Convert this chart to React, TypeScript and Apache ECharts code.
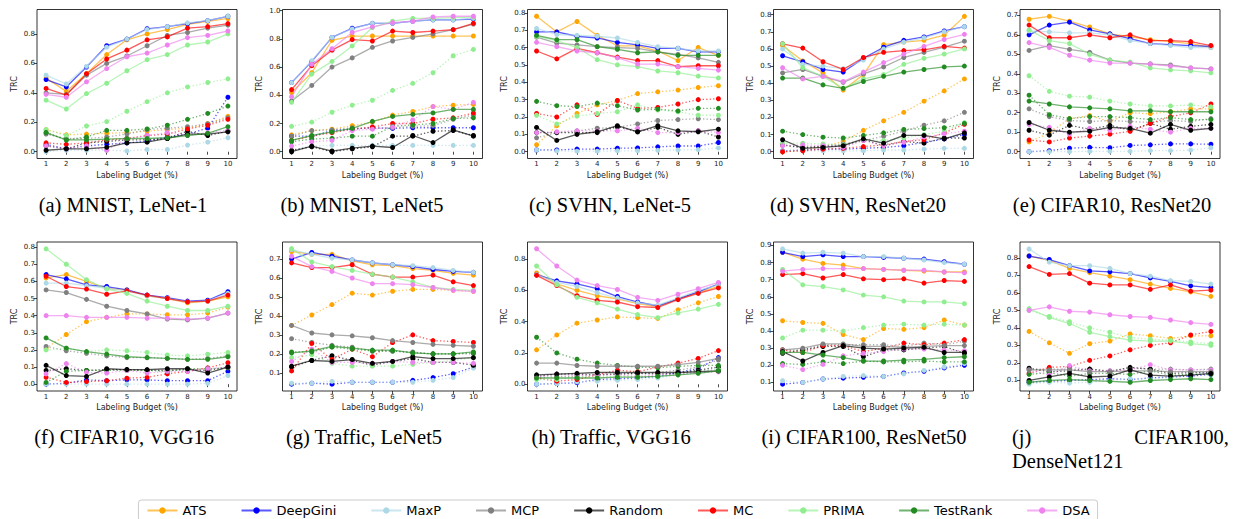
import React, { useEffect, useRef } from "react";
import * as echarts from "echarts";

const METHODS = ["ATS", "DeepGini", "MaxP", "MCP", "Random", "MC", "PRIMA", "TestRank", "DSA"];
const COLORS = ["#FFA500", "#0000FF", "#ADD8E6", "#808080", "#000000", "#FF0000", "#90EE90", "#228B22", "#EE82EE"];
const BUDGET = [1, 2, 3, 4, 5, 6, 7, 8, 9, 10];

// order of rows in every block: ATS, DeepGini, MaxP, MCP, Random, MC, PRIMA, TestRank, DSA
const A_SOLID = [
  [0.50, 0.41, 0.53, 0.66, 0.76, 0.80, 0.83, 0.865, 0.885, 0.905],
  [0.49, 0.44, 0.575, 0.72, 0.765, 0.835, 0.85, 0.87, 0.89, 0.92],
  [0.52, 0.46, 0.58, 0.71, 0.765, 0.83, 0.85, 0.875, 0.89, 0.92],
  [0.40, 0.39, 0.52, 0.60, 0.65, 0.72, 0.79, 0.81, 0.84, 0.86],
  [0.01, 0.02, 0.02, 0.03, 0.06, 0.065, 0.09, 0.12, 0.12, 0.135],
  [0.43, 0.385, 0.53, 0.63, 0.69, 0.76, 0.78, 0.84, 0.85, 0.87],
  [0.35, 0.29, 0.395, 0.465, 0.55, 0.625, 0.66, 0.725, 0.745, 0.80],
  [0.13, 0.08, 0.08, 0.085, 0.09, 0.09, 0.095, 0.11, 0.125, 0.17],
  [0.39, 0.37, 0.475, 0.565, 0.645, 0.67, 0.725, 0.775, 0.79, 0.82],
];
const A_DOTTED = [
  [0.15, 0.115, 0.12, 0.125, 0.13, 0.14, 0.15, 0.16, 0.19, 0.24],
  [0.05, 0.02, 0.04, 0.05, 0.06, 0.07, 0.10, 0.12, 0.16, 0.37],
  [0.0, 0.01, 0.01, 0.01, 0.005, 0.015, 0.015, 0.045, 0.065, 0.095],
  [0.12, 0.09, 0.09, 0.10, 0.12, 0.15, 0.16, 0.17, 0.19, 0.23],
  [0.04, 0.02, 0.06, 0.07, 0.08, 0.08, 0.09, 0.14, 0.11, 0.14],
  [0.06, 0.05, 0.06, 0.08, 0.09, 0.11, 0.12, 0.155, 0.18, 0.22],
  [0.15, 0.11, 0.175, 0.205, 0.275, 0.34, 0.40, 0.44, 0.47, 0.495],
  [0.13, 0.08, 0.10, 0.145, 0.145, 0.155, 0.18, 0.22, 0.26, 0.31],
  [0.04, 0.02, 0.04, 0.01, 0.09, 0.11, 0.13, 0.11, 0.13, 0.145],
];

const B_SOLID = [
  [0.42, 0.56, 0.79, 0.82, 0.82, 0.82, 0.82, 0.82, 0.82, 0.82],
  [0.49, 0.64, 0.81, 0.875, 0.91, 0.91, 0.925, 0.935, 0.935, 0.94],
  [0.49, 0.645, 0.81, 0.87, 0.91, 0.91, 0.925, 0.935, 0.935, 0.945],
  [0.36, 0.47, 0.60, 0.665, 0.74, 0.785, 0.81, 0.835, 0.865, 0.905],
  [0.0, 0.04, 0.005, 0.025, 0.04, 0.03, 0.115, 0.065, 0.155, 0.11],
  [0.44, 0.61, 0.72, 0.795, 0.785, 0.855, 0.845, 0.855, 0.865, 0.91],
  [0.35, 0.55, 0.64, 0.75, 0.88, 0.925, 0.945, 0.945, 0.95, 0.955],
  [0.08, 0.115, 0.14, 0.165, 0.215, 0.25, 0.265, 0.275, 0.30, 0.30],
  [0.39, 0.62, 0.73, 0.845, 0.885, 0.915, 0.925, 0.955, 0.96, 0.96],
];
const B_DOTTED = [
  [0.12, 0.15, 0.16, 0.185, 0.21, 0.26, 0.285, 0.32, 0.33, 0.335],
  [0.11, 0.11, 0.15, 0.16, 0.17, 0.165, 0.17, 0.17, 0.17, 0.17],
  [0.01, 0.04, 0.045, 0.045, 0.045, 0.045, 0.045, 0.045, 0.045, 0.045],
  [0.11, 0.15, 0.155, 0.17, 0.165, 0.17, 0.18, 0.185, 0.23, 0.26],
  [0.01, 0.035, 0.0, 0.02, 0.035, 0.11, 0.11, 0.145, 0.15, 0.115],
  [0.08, 0.11, 0.135, 0.16, 0.175, 0.20, 0.20, 0.23, 0.24, 0.275],
  [0.18, 0.21, 0.28, 0.33, 0.365, 0.435, 0.485, 0.56, 0.68, 0.725],
  [0.07, 0.09, 0.095, 0.11, 0.11, 0.18, 0.19, 0.20, 0.235, 0.24],
  [0.04, 0.07, 0.08, 0.15, 0.16, 0.175, 0.225, 0.32, 0.30, 0.35],
];

const C_SOLID = [
  [0.78, 0.69, 0.75, 0.67, 0.61, 0.61, 0.58, 0.525, 0.60, 0.555],
  [0.69, 0.69, 0.665, 0.655, 0.63, 0.615, 0.595, 0.595, 0.575, 0.575],
  [0.71, 0.675, 0.67, 0.665, 0.655, 0.63, 0.605, 0.595, 0.58, 0.58],
  [0.66, 0.625, 0.615, 0.605, 0.60, 0.595, 0.575, 0.56, 0.54, 0.515],
  [0.14, 0.065, 0.10, 0.115, 0.15, 0.115, 0.15, 0.12, 0.115, 0.13],
  [0.58, 0.535, 0.595, 0.57, 0.545, 0.525, 0.525, 0.49, 0.495, 0.495],
  [0.665, 0.64, 0.60, 0.53, 0.50, 0.49, 0.465, 0.455, 0.435, 0.425],
  [0.67, 0.645, 0.645, 0.605, 0.59, 0.57, 0.575, 0.555, 0.555, 0.555],
  [0.63, 0.605, 0.58, 0.57, 0.54, 0.505, 0.505, 0.49, 0.48, 0.47],
];
const C_DOTTED = [
  [0.04, 0.15, 0.22, 0.27, 0.295, 0.335, 0.345, 0.355, 0.37, 0.38],
  [0.01, 0.01, 0.015, 0.015, 0.02, 0.022, 0.028, 0.033, 0.033, 0.053],
  [0.01, 0.005, 0.003, 0.003, 0.005, 0.005, 0.008, 0.01, 0.012, 0.022],
  [0.08, 0.11, 0.12, 0.135, 0.14, 0.16, 0.18, 0.185, 0.19, 0.185],
  [0.11, 0.11, 0.11, 0.11, 0.145, 0.115, 0.14, 0.10, 0.12, 0.085],
  [0.22, 0.20, 0.27, 0.215, 0.295, 0.25, 0.255, 0.275, 0.30, 0.305],
  [0.21, 0.16, 0.205, 0.22, 0.23, 0.27, 0.24, 0.23, 0.21, 0.21],
  [0.29, 0.265, 0.26, 0.28, 0.265, 0.24, 0.245, 0.235, 0.25, 0.25],
  [0.11, 0.115, 0.12, 0.12, 0.12, 0.135, 0.11, 0.11, 0.12, 0.11],
];

const D_SOLID = [
  [0.62, 0.53, 0.46, 0.36, 0.45, 0.625, 0.64, 0.65, 0.68, 0.79],
  [0.56, 0.525, 0.48, 0.465, 0.545, 0.61, 0.65, 0.67, 0.705, 0.73],
  [0.60, 0.51, 0.50, 0.485, 0.535, 0.60, 0.64, 0.665, 0.70, 0.73],
  [0.46, 0.48, 0.44, 0.405, 0.455, 0.495, 0.55, 0.58, 0.61, 0.645],
  [0.07, 0.02, 0.025, 0.035, 0.075, 0.05, 0.095, 0.095, 0.075, 0.11],
  [0.63, 0.605, 0.525, 0.48, 0.55, 0.58, 0.59, 0.595, 0.615, 0.605],
  [0.63, 0.49, 0.44, 0.37, 0.425, 0.45, 0.51, 0.545, 0.57, 0.60],
  [0.43, 0.43, 0.39, 0.37, 0.41, 0.44, 0.465, 0.48, 0.495, 0.50],
  [0.49, 0.425, 0.44, 0.41, 0.465, 0.52, 0.57, 0.615, 0.655, 0.685],
];
const D_DOTTED = [
  [0.0, 0.01, 0.03, 0.06, 0.125, 0.18, 0.23, 0.295, 0.355, 0.425],
  [0.005, 0.01, 0.015, 0.015, 0.02, 0.025, 0.035, 0.055, 0.075, 0.10],
  [0.005, 0.005, 0.005, 0.005, 0.005, 0.01, 0.01, 0.015, 0.02, 0.02],
  [0.04, 0.02, 0.035, 0.045, 0.065, 0.09, 0.12, 0.155, 0.18, 0.23],
  [0.04, 0.025, 0.03, 0.035, 0.07, 0.035, 0.06, 0.05, 0.08, 0.08],
  [0.0, 0.005, 0.015, 0.02, 0.03, 0.04, 0.06, 0.07, 0.11, 0.16],
  [0.05, 0.05, 0.045, 0.04, 0.07, 0.065, 0.08, 0.10, 0.12, 0.17],
  [0.12, 0.10, 0.085, 0.08, 0.095, 0.11, 0.13, 0.135, 0.14, 0.165],
  [0.035, 0.04, 0.035, 0.025, 0.065, 0.035, 0.055, 0.085, 0.105, 0.12],
];

const E_SOLID = [
  [0.68, 0.695, 0.67, 0.64, 0.605, 0.59, 0.575, 0.565, 0.555, 0.535],
  [0.60, 0.65, 0.665, 0.625, 0.605, 0.58, 0.555, 0.55, 0.545, 0.54],
  [0.62, 0.615, 0.61, 0.61, 0.60, 0.57, 0.555, 0.545, 0.535, 0.535],
  [0.52, 0.545, 0.525, 0.51, 0.47, 0.455, 0.45, 0.445, 0.43, 0.425],
  [0.15, 0.11, 0.10, 0.105, 0.125, 0.12, 0.095, 0.14, 0.11, 0.12],
  [0.65, 0.585, 0.585, 0.60, 0.585, 0.60, 0.57, 0.57, 0.565, 0.545],
  [0.625, 0.57, 0.555, 0.50, 0.47, 0.46, 0.43, 0.42, 0.415, 0.405],
  [0.26, 0.245, 0.23, 0.225, 0.22, 0.21, 0.21, 0.205, 0.205, 0.205],
  [0.56, 0.535, 0.495, 0.47, 0.455, 0.455, 0.45, 0.44, 0.43, 0.425],
];
const E_DOTTED = [
  [0.05, 0.095, 0.17, 0.185, 0.155, 0.20, 0.195, 0.205, 0.22, 0.22],
  [0.0, 0.005, 0.018, 0.022, 0.02, 0.032, 0.035, 0.04, 0.04, 0.038],
  [0.0, 0.0, 0.0, 0.002, 0.002, 0.002, 0.005, 0.005, 0.008, 0.02],
  [0.22, 0.18, 0.16, 0.155, 0.16, 0.155, 0.15, 0.16, 0.155, 0.17],
  [0.11, 0.085, 0.135, 0.115, 0.135, 0.11, 0.145, 0.115, 0.13, 0.14],
  [0.06, 0.05, 0.07, 0.08, 0.09, 0.105, 0.145, 0.18, 0.20, 0.245],
  [0.39, 0.31, 0.285, 0.28, 0.26, 0.245, 0.235, 0.235, 0.24, 0.23],
  [0.29, 0.19, 0.17, 0.18, 0.18, 0.175, 0.165, 0.175, 0.165, 0.165],
  [0.14, 0.125, 0.09, 0.12, 0.11, 0.13, 0.115, 0.10, 0.12, 0.12],
];

const F_SOLID = [
  [0.62, 0.64, 0.60, 0.56, 0.55, 0.515, 0.50, 0.475, 0.485, 0.51],
  [0.64, 0.615, 0.58, 0.57, 0.55, 0.52, 0.505, 0.485, 0.49, 0.54],
  [0.59, 0.59, 0.575, 0.56, 0.545, 0.515, 0.50, 0.48, 0.485, 0.53],
  [0.55, 0.535, 0.495, 0.455, 0.43, 0.41, 0.38, 0.375, 0.385, 0.415],
  [0.11, 0.05, 0.045, 0.09, 0.085, 0.085, 0.09, 0.09, 0.065, 0.10],
  [0.63, 0.57, 0.555, 0.525, 0.545, 0.52, 0.50, 0.48, 0.485, 0.52],
  [0.79, 0.70, 0.61, 0.555, 0.53, 0.485, 0.455, 0.43, 0.43, 0.455],
  [0.27, 0.21, 0.19, 0.175, 0.16, 0.155, 0.15, 0.145, 0.145, 0.16],
  [0.40, 0.40, 0.39, 0.39, 0.39, 0.385, 0.385, 0.38, 0.385, 0.415],
];
const F_DOTTED = [
  [0.21, 0.29, 0.365, 0.39, 0.41, 0.41, 0.405, 0.405, 0.415, 0.45],
  [0.0, 0.005, 0.025, 0.02, 0.025, 0.025, 0.02, 0.02, 0.02, 0.075],
  [0.0, 0.0, 0.0, 0.0, 0.0, 0.0, 0.0, 0.0, 0.005, 0.05],
  [0.22, 0.195, 0.18, 0.165, 0.155, 0.155, 0.15, 0.145, 0.15, 0.165],
  [0.08, 0.09, 0.08, 0.085, 0.085, 0.08, 0.08, 0.085, 0.08, 0.10],
  [0.04, 0.01, 0.015, 0.02, 0.035, 0.04, 0.06, 0.075, 0.095, 0.125],
  [0.20, 0.21, 0.19, 0.20, 0.195, 0.185, 0.17, 0.165, 0.175, 0.185],
  [0.01, 0.075, 0.08, 0.08, 0.08, 0.08, 0.075, 0.09, 0.09, 0.095],
  [0.06, 0.12, 0.07, 0.065, 0.08, 0.065, 0.075, 0.075, 0.09, 0.10],
];

const G_SOLID = [
  [0.74, 0.725, 0.725, 0.69, 0.67, 0.665, 0.65, 0.64, 0.625, 0.615],
  [0.70, 0.735, 0.715, 0.695, 0.68, 0.67, 0.66, 0.645, 0.635, 0.63],
  [0.75, 0.725, 0.705, 0.695, 0.68, 0.67, 0.665, 0.655, 0.64, 0.63],
  [0.35, 0.31, 0.30, 0.295, 0.285, 0.27, 0.26, 0.25, 0.245, 0.24],
  [0.135, 0.165, 0.16, 0.17, 0.15, 0.16, 0.185, 0.175, 0.175, 0.18],
  [0.68, 0.655, 0.655, 0.67, 0.62, 0.605, 0.605, 0.615, 0.58, 0.56],
  [0.755, 0.685, 0.66, 0.64, 0.62, 0.605, 0.58, 0.55, 0.54, 0.535],
  [0.205, 0.215, 0.24, 0.23, 0.22, 0.22, 0.205, 0.20, 0.20, 0.21],
  [0.715, 0.66, 0.635, 0.60, 0.57, 0.57, 0.565, 0.55, 0.535, 0.53],
];
const G_DOTTED = [
  [0.35, 0.405, 0.46, 0.52, 0.51, 0.53, 0.54, 0.54, 0.535, 0.53],
  [0.04, 0.045, 0.04, 0.05, 0.05, 0.05, 0.06, 0.075, 0.095, 0.13],
  [0.045, 0.045, 0.055, 0.05, 0.05, 0.05, 0.05, 0.06, 0.075, 0.125],
  [0.28, 0.26, 0.245, 0.235, 0.215, 0.215, 0.21, 0.20, 0.20, 0.20],
  [0.13, 0.165, 0.19, 0.165, 0.14, 0.16, 0.175, 0.155, 0.155, 0.14],
  [0.11, 0.255, 0.17, 0.225, 0.185, 0.26, 0.30, 0.27, 0.265, 0.26],
  [0.18, 0.195, 0.15, 0.135, 0.135, 0.135, 0.145, 0.155, 0.165, 0.18],
  [0.21, 0.21, 0.235, 0.225, 0.215, 0.215, 0.205, 0.20, 0.20, 0.205],
  [0.16, 0.225, 0.155, 0.155, 0.15, 0.16, 0.155, 0.155, 0.155, 0.15],
];

const H_SOLID = [
  [0.71, 0.64, 0.60, 0.565, 0.545, 0.515, 0.495, 0.545, 0.585, 0.625],
  [0.70, 0.66, 0.64, 0.61, 0.56, 0.525, 0.50, 0.545, 0.59, 0.64],
  [0.70, 0.65, 0.625, 0.585, 0.55, 0.52, 0.505, 0.55, 0.60, 0.635],
  [0.135, 0.135, 0.12, 0.115, 0.115, 0.115, 0.115, 0.125, 0.14, 0.165],
  [0.06, 0.065, 0.07, 0.075, 0.075, 0.075, 0.075, 0.075, 0.08, 0.085],
  [0.695, 0.63, 0.565, 0.535, 0.525, 0.495, 0.49, 0.54, 0.58, 0.615],
  [0.755, 0.635, 0.555, 0.52, 0.48, 0.445, 0.425, 0.455, 0.48, 0.51],
  [0.04, 0.04, 0.04, 0.04, 0.045, 0.045, 0.05, 0.06, 0.07, 0.085],
  [0.865, 0.755, 0.665, 0.63, 0.605, 0.555, 0.535, 0.575, 0.61, 0.65],
];
const H_DOTTED = [
  [0.22, 0.315, 0.39, 0.41, 0.43, 0.425, 0.42, 0.475, 0.52, 0.56],
  [0.0, 0.005, 0.01, 0.03, 0.035, 0.04, 0.05, 0.075, 0.10, 0.17],
  [0.0, 0.005, 0.015, 0.02, 0.025, 0.03, 0.04, 0.06, 0.08, 0.10],
  [0.04, 0.05, 0.05, 0.06, 0.065, 0.07, 0.075, 0.09, 0.11, 0.155],
  [0.05, 0.065, 0.065, 0.06, 0.065, 0.07, 0.065, 0.07, 0.09, 0.11],
  [0.04, 0.02, 0.03, 0.06, 0.09, 0.08, 0.11, 0.135, 0.165, 0.215],
  [0.03, 0.03, 0.05, 0.05, 0.05, 0.05, 0.05, 0.065, 0.08, 0.095],
  [0.30, 0.20, 0.16, 0.135, 0.12, 0.11, 0.105, 0.115, 0.12, 0.12],
  [0.045, 0.065, 0.055, 0.06, 0.06, 0.05, 0.06, 0.065, 0.075, 0.08],
];

const I_SOLID = [
  [0.86, 0.82, 0.795, 0.785, 0.765, 0.76, 0.755, 0.75, 0.745, 0.745],
  [0.86, 0.835, 0.845, 0.835, 0.835, 0.83, 0.825, 0.82, 0.805, 0.79],
  [0.88, 0.855, 0.86, 0.855, 0.835, 0.835, 0.825, 0.815, 0.80, 0.79],
  [0.29, 0.30, 0.325, 0.325, 0.31, 0.31, 0.305, 0.31, 0.315, 0.315],
  [0.28, 0.225, 0.275, 0.315, 0.30, 0.295, 0.30, 0.305, 0.275, 0.275],
  [0.73, 0.735, 0.71, 0.73, 0.705, 0.70, 0.705, 0.68, 0.695, 0.69],
  [0.76, 0.67, 0.66, 0.64, 0.61, 0.60, 0.575, 0.57, 0.57, 0.56],
  [0.275, 0.275, 0.26, 0.245, 0.225, 0.225, 0.23, 0.235, 0.245, 0.25],
  [0.75, 0.76, 0.765, 0.765, 0.765, 0.76, 0.755, 0.755, 0.745, 0.74],
];
const I_DOTTED = [
  [0.46, 0.45, 0.445, 0.38, 0.35, 0.415, 0.41, 0.42, 0.465, 0.435],
  [0.09, 0.10, 0.12, 0.125, 0.13, 0.135, 0.155, 0.165, 0.185, 0.20],
  [0.11, 0.10, 0.12, 0.135, 0.14, 0.135, 0.15, 0.17, 0.19, 0.21],
  [0.29, 0.29, 0.32, 0.32, 0.32, 0.32, 0.31, 0.33, 0.32, 0.34],
  [0.27, 0.29, 0.31, 0.31, 0.25, 0.29, 0.29, 0.30, 0.31, 0.27],
  [0.29, 0.275, 0.315, 0.315, 0.28, 0.30, 0.33, 0.32, 0.33, 0.35],
  [0.36, 0.405, 0.405, 0.40, 0.42, 0.435, 0.44, 0.435, 0.44, 0.435],
  [0.21, 0.205, 0.22, 0.21, 0.225, 0.22, 0.22, 0.225, 0.22, 0.22],
  [0.20, 0.175, 0.205, 0.255, 0.27, 0.28, 0.295, 0.295, 0.29, 0.285],
];

const J_SOLID = [
  [0.81, 0.785, 0.74, 0.715, 0.695, 0.675, 0.65, 0.625, 0.605, 0.58],
  [0.81, 0.79, 0.755, 0.725, 0.72, 0.71, 0.685, 0.665, 0.64, 0.63],
  [0.85, 0.775, 0.755, 0.755, 0.74, 0.71, 0.695, 0.67, 0.665, 0.65],
  [0.16, 0.16, 0.16, 0.15, 0.15, 0.155, 0.155, 0.15, 0.15, 0.15],
  [0.10, 0.12, 0.14, 0.12, 0.125, 0.16, 0.13, 0.125, 0.13, 0.14],
  [0.75, 0.705, 0.71, 0.655, 0.645, 0.645, 0.62, 0.645, 0.61, 0.615],
  [0.51, 0.46, 0.425, 0.375, 0.35, 0.33, 0.325, 0.325, 0.31, 0.30],
  [0.09, 0.10, 0.105, 0.10, 0.095, 0.09, 0.10, 0.105, 0.11, 0.105],
  [0.50, 0.52, 0.495, 0.49, 0.475, 0.465, 0.46, 0.445, 0.43, 0.42],
];
const J_DOTTED = [
  [0.38, 0.315, 0.255, 0.31, 0.325, 0.365, 0.355, 0.34, 0.355, 0.355],
  [0.09, 0.095, 0.10, 0.105, 0.11, 0.105, 0.115, 0.12, 0.125, 0.135],
  [0.08, 0.09, 0.085, 0.09, 0.10, 0.11, 0.11, 0.115, 0.14, 0.15],
  [0.165, 0.165, 0.165, 0.165, 0.155, 0.17, 0.165, 0.165, 0.16, 0.165],
  [0.17, 0.15, 0.155, 0.165, 0.15, 0.175, 0.165, 0.14, 0.145, 0.145],
  [0.14, 0.175, 0.18, 0.215, 0.24, 0.275, 0.30, 0.315, 0.36, 0.38],
  [0.50, 0.465, 0.435, 0.40, 0.375, 0.345, 0.335, 0.33, 0.32, 0.31],
  [0.135, 0.145, 0.125, 0.14, 0.14, 0.135, 0.155, 0.13, 0.135, 0.135],
  [0.16, 0.13, 0.185, 0.155, 0.155, 0.16, 0.19, 0.16, 0.16, 0.16],
];

const TICKS_A = [0, 0.2, 0.4, 0.6, 0.8];
const TICKS_B = [0, 0.2, 0.4, 0.6, 0.8, 1.0];
const TICKS_C = [0, 0.1, 0.2, 0.3, 0.4, 0.5, 0.6, 0.7, 0.8];
const TICKS_D = [0, 0.1, 0.2, 0.3, 0.4, 0.5, 0.6, 0.7, 0.8];
const TICKS_E = [0, 0.1, 0.2, 0.3, 0.4, 0.5, 0.6, 0.7];
const TICKS_F = [0, 0.1, 0.2, 0.3, 0.4, 0.5, 0.6, 0.7, 0.8];
const TICKS_G = [0.1, 0.2, 0.3, 0.4, 0.5, 0.6, 0.7];
const TICKS_H = [0, 0.2, 0.4, 0.6, 0.8];
const TICKS_I = [0.1, 0.2, 0.3, 0.4, 0.5, 0.6, 0.7, 0.8, 0.9];
const TICKS_J = [0.1, 0.2, 0.3, 0.4, 0.5, 0.6, 0.7, 0.8];

const Y_RANGES = [
  [-0.046, 0.966], [-0.048, 1.008], [-0.039, 0.819], [-0.0395, 0.83], [-0.035, 0.73],
  [-0.04, 0.83], [0.004, 0.79], [-0.043, 0.908], [0.05, 0.92], [0.04, 0.89],
];

const CAPTIONS = [
  "(a) MNIST, LeNet-1", "(b) MNIST, LeNet5", "(c) SVHN, LeNet-5", "(d) SVHN, ResNet20", "(e) CIFAR10, ResNet20",
  "(f) CIFAR10, VGG16", "(g) Traffic, LeNet5", "(h) Traffic, VGG16", "(i) CIFAR100, ResNet50",
];

const PANELS = [
  { solid: A_SOLID, dotted: A_DOTTED, ticks: TICKS_A },
  { solid: B_SOLID, dotted: B_DOTTED, ticks: TICKS_B },
  { solid: C_SOLID, dotted: C_DOTTED, ticks: TICKS_C },
  { solid: D_SOLID, dotted: D_DOTTED, ticks: TICKS_D },
  { solid: E_SOLID, dotted: E_DOTTED, ticks: TICKS_E },
  { solid: F_SOLID, dotted: F_DOTTED, ticks: TICKS_F },
  { solid: G_SOLID, dotted: G_DOTTED, ticks: TICKS_G },
  { solid: H_SOLID, dotted: H_DOTTED, ticks: TICKS_H },
  { solid: I_SOLID, dotted: I_DOTTED, ticks: TICKS_I },
  { solid: J_SOLID, dotted: J_DOTTED, ticks: TICKS_J },
];

const COL_LEFT = [37, 282.5, 527.5, 773.5, 1020];
const ROW_TOP = [9.5, 242];
const GRID_W = 200;
const GRID_H = 149;
const CAP_X = [123, 362, 610, 858, 1112, 124, 364, 611, 864];
const CAP_Y = [205, 437];

const SANS = "DejaVu Sans";
const SERIF = "Liberation Serif";
const CAP_SIZE = 20.5;

function buildOption() {
  const grid: any[] = [];
  const xAxis: any[] = [];
  const yAxis: any[] = [];
  const series: any[] = [];
  PANELS.forEach((p, k) => {
    const col = k % 5;
    const row = Math.floor(k / 5);
    grid.push({
      left: COL_LEFT[col], top: ROW_TOP[row], width: GRID_W, height: GRID_H,
      show: true, borderColor: "#000", borderWidth: 0.8, backgroundColor: "#fff",
    });
    xAxis.push({
      type: "value", gridIndex: k, min: 0.55, max: 10.45,
      name: "Labeling Budget (%)", nameLocation: "middle", nameGap: row === 0 ? 13 : 12,
      nameTextStyle: { fontSize: 8, fontFamily: SANS, color: "#222" },
      axisLine: { show: false },
      axisTick: { show: true, inside: false, length: 3, customValues: BUDGET, lineStyle: { color: "#000", width: 0.7 } },
      axisLabel: { customValues: BUDGET, fontSize: 7, fontFamily: SANS, color: "#222", margin: 2, formatter: (v: number) => String(Math.round(v)) },
      splitLine: { show: false },
    });
    yAxis.push({
      type: "value", gridIndex: k, min: Y_RANGES[k][0], max: Y_RANGES[k][1],
      name: "TRC", nameLocation: "middle", nameGap: 19,
      nameTextStyle: { fontSize: 8, fontFamily: SANS, color: "#222" },
      axisLine: { show: false },
      axisTick: { show: true, inside: false, length: 3, customValues: p.ticks, lineStyle: { color: "#000", width: 0.7 } },
      axisLabel: { customValues: p.ticks, fontSize: 7, fontFamily: SANS, color: "#222", margin: 2, formatter: (v: number) => v.toFixed(1) },
      splitLine: { show: false },
    });
    METHODS.forEach((m, i) => {
      series.push({
        type: "line", name: m, xAxisIndex: k, yAxisIndex: k, z: 3,
        data: BUDGET.map((x, j) => [x, p.solid[i][j]]),
        symbol: "circle", symbolSize: 5, showSymbol: true,
        lineStyle: { color: COLORS[i], width: 1.3, opacity: 0.65 },
        itemStyle: { color: COLORS[i] },
        emphasis: { disabled: true },
      });
    });
    METHODS.forEach((m, i) => {
      series.push({
        type: "line", name: m, xAxisIndex: k, yAxisIndex: k, z: 2,
        data: BUDGET.map((x, j) => [x, p.dotted[i][j]]),
        symbol: "circle", symbolSize: 5, showSymbol: true,
        lineStyle: { color: COLORS[i], width: 1.3, opacity: 0.65, type: [1.3, 2.2] },
        itemStyle: { color: COLORS[i] },
        emphasis: { disabled: true },
      });
    });
  });

  const capStyle = { fontSize: CAP_SIZE, fontFamily: SERIF, fill: "#000", verticalAlign: "middle" };
  const graphic: any[] = CAPTIONS.map((c, k) => ({
    type: "text",
    x: CAP_X[k], y: CAP_Y[Math.floor(k / 5)],
    style: { ...capStyle, text: c, align: "center" },
  }));
  graphic.push(
    { type: "text", x: 1012, y: 437, style: { ...capStyle, text: "(j)", align: "left" } },
    { type: "text", x: 1229, y: 437, style: { ...capStyle, text: "CIFAR100,", align: "right" } },
    { type: "text", x: 1012, y: 461, style: { ...capStyle, text: "DenseNet121", align: "left" } },
  );

  return {
    animation: false,
    backgroundColor: "#fff",
    grid, xAxis, yAxis, series, graphic,
    legend: {
      data: METHODS, left: "center", top: 500,
      itemWidth: 30, itemHeight: 8, itemGap: 34,
      padding: [4, 8], borderColor: "#ccc", borderWidth: 1, borderRadius: 3,
      backgroundColor: "#fff",
      textStyle: { fontSize: 13, fontFamily: SANS, color: "#000" },
      selectedMode: false,
    },
  };
}

export default function App() {
  const ref = useRef<HTMLDivElement>(null);
  useEffect(() => {
    if (!ref.current) return;
    const chart = echarts.init(ref.current, null, { renderer: "svg" });
    chart.setOption(buildOption() as any);
    return () => chart.dispose();
  }, []);
  return <div ref={ref} style={{ position: "absolute", left: 0, top: 0, width: 1236, height: 519 }} />;
}
